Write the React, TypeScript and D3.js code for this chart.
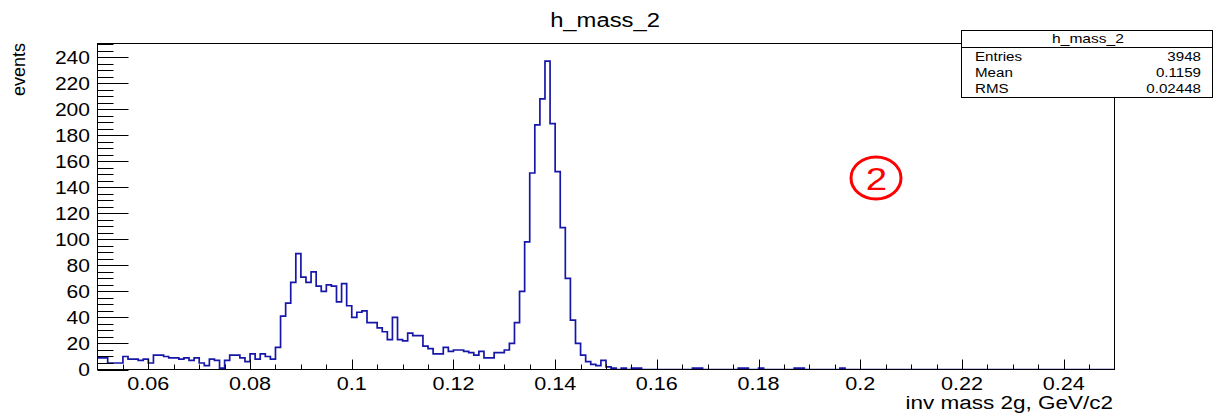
import React from "react";
import * as d3 from "d3";

// Histogram h_mass_2: 200 bins of width 0.001 from 0.05 to 0.25
const binLow = 0.05;
const binWidth = 0.001;
const counts: number[] = [
  9, 9, 5, 5, 5, 10, 8, 8, 7, 8, 5, 11, 11, 10, 9, 9, 8, 9, 7, 9,
  5, 3, 8, 7, 1, 7, 11, 11, 9, 6, 12, 8, 12, 10, 8, 17, 41, 51, 67, 89,
  71, 67, 75, 64, 60, 65, 64, 52, 66, 49, 40, 44, 45, 36, 36, 32, 29, 23, 40, 23,
  22, 28, 26, 26, 18, 16, 12, 12, 17, 14, 15, 15, 14, 13, 11, 14, 9, 9, 13, 13,
  15, 20, 36, 60, 98, 151, 188, 208, 237, 189, 152, 109, 70, 38, 20, 11, 6, 4, 3, 7,
  2, 1, 0, 1, 0, 1, 1, 0, 0, 0, 0, 0, 0, 0, 0, 0, 0, 1, 1, 0,
  0, 0, 0, 0, 0, 0, 1, 1, 0, 0, 1, 0, 0, 0, 0, 0, 0, 1, 1, 0,
  0, 0, 0, 0, 0, 0, 1, 0, 0, 0, 0, 0, 0, 0, 0, 0, 0, 0, 0, 0,
  0, 0, 0, 0, 0, 0, 0, 0, 0, 0, 0, 0, 0, 0, 0, 0, 0, 0, 0, 0,
  0, 0, 0, 0, 0, 0, 0, 0, 0, 0, 0, 0, 0, 0, 0, 0, 0, 0, 0, 0,
];

const xMajorTicks = [0.06, 0.08, 0.1, 0.12, 0.14, 0.16, 0.18, 0.2, 0.22, 0.24];
const xTickLabels = ["0.06", "0.08", "0.1", "0.12", "0.14", "0.16", "0.18", "0.2", "0.22", "0.24"];
const yMajorTicks = [0, 20, 40, 60, 80, 100, 120, 140, 160, 180, 200, 220, 240];
const statsLabels = ["Entries", "Mean", "RMS"];
const statsValues = ["3948", "0.1159", "0.02448"];

const W = 1214;
const H = 416;
const left = 97.5;
const right = 1114.5;
const top = 43.5;
const bottom = 369.5;
const SX = 1.2;
const FONT = "'Liberation Sans', Arial, Helvetica, sans-serif";

function T(props: {
  x: number; y: number; anchor?: string; size: number; sx?: number; fill?: string; rotate?: boolean; children: React.ReactNode;
}) {
  const { x, y, anchor = "start", size, sx = SX, fill = "#000", rotate = false, children } = props;
  const tr = `translate(${x},${y}) scale(${sx},1)` + (rotate ? " rotate(-90)" : "");
  return (
    <text transform={tr} textAnchor={anchor} fontSize={size} fontFamily={FONT} fill={fill}>
      {children}
    </text>
  );
}

export default function App() {
  const x = d3.scaleLinear().domain([0.05, 0.25]).range([left, right]);
  const y = d3.scaleLinear().domain([0, 250.5]).range([bottom, top]);

  const pts: [number, number][] = counts.map((c, i) => [binLow + i * binWidth, c]);
  pts.push([binLow + counts.length * binWidth, counts[counts.length - 1]]);
  const line = d3
    .line<[number, number]>()
    .x((d) => x(d[0]))
    .y((d) => y(d[1]))
    .curve(d3.curveStepAfter);

  const xMinor = d3.range(0, 41).map((k) => 0.05 + k * 0.005).filter((v) => v > 0.0501 && v < 0.2499);
  const yMinor = d3.range(0, 51).map((k) => k * 5).filter((v) => v % 20 !== 0 && v < 250.5);

  const majorLenY = 31;
  const minorLenY = 16;
  const majorLenX = 10;
  const minorLenX = 5;

  const statsTop = 30.5;
  const statsBottom = 97.5;

  return (
    <div style={{ position: "absolute", left: 0, top: 0 }}>
      <svg width={W} height={H} style={{ display: "block", background: "#fff" }}>
        <rect x={0} y={0} width={W} height={H} fill="#fff" />
        {/* title */}
        <T x={605} y={27} anchor="middle" size={20} sx={1.19}>h_mass_2</T>

        {/* histogram */}
        <defs>
          <clipPath id="frameClip">
            <rect x={left} y={top} width={right - left} height={bottom - top} />
          </clipPath>
        </defs>
        <path d={line(pts) || ""} fill="none" stroke="#1616a8" strokeWidth={1.7} clipPath="url(#frameClip)" />

        {/* frame */}
        <rect x={left} y={top} width={right - left} height={bottom - top} fill="none" stroke="#000" strokeWidth={1} />

        {/* y axis ticks */}
        {yMajorTicks.map((v) => (
          <line key={"ym" + v} x1={left} x2={left + majorLenY} y1={Math.round(y(v)) + 0.5} y2={Math.round(y(v)) + 0.5} stroke="#000" />
        ))}
        {yMinor.map((v) => (
          <line key={"yn" + v} x1={left} x2={left + minorLenY} y1={Math.round(y(v)) + 0.5} y2={Math.round(y(v)) + 0.5} stroke="#000" />
        ))}
        {yMajorTicks.map((v) => (
          <T key={"yl" + v} x={90} y={y(v) + 6.5} anchor="end" size={18} sx={1.17}>{String(v)}</T>
        ))}
        <T x={25} y={43} anchor="end" size={18} sx={1.0} rotate>events</T>

        {/* x axis ticks */}
        {xMajorTicks.map((v) => (
          <line key={"xm" + v} x1={Math.round(x(v)) + 0.5} x2={Math.round(x(v)) + 0.5} y1={bottom} y2={bottom - majorLenX} stroke="#000" />
        ))}
        {xMinor.map((v) => (
          <line key={"xn" + v} x1={Math.round(x(v)) + 0.5} x2={Math.round(x(v)) + 0.5} y1={bottom} y2={bottom - minorLenX} stroke="#000" />
        ))}
        {xMajorTicks.map((v, i) => (
          <T key={"xl" + v} x={x(v)} y={390} anchor="middle" size={18} sx={1.2}>{xTickLabels[i]}</T>
        ))}
        <T x={1113} y={409} anchor="end" size={18} sx={1.25}>inv mass 2g, GeV/c2</T>

        {/* stats box */}
        <rect x={961.5} y={statsTop} width={251} height={statsBottom - statsTop} fill="#fff" stroke="#000" strokeWidth={1} />
        <line x1={961.5} x2={1212.5} y1={47.5} y2={47.5} stroke="#000" />
        <T x={1088} y={43} anchor="middle" size={13} sx={1.2}>h_mass_2</T>
        {statsLabels.map((s, i) => (
          <T key={s} x={975} y={60.5 + i * 16.3} size={13.5} sx={1.12}>{s}</T>
        ))}
        {statsValues.map((s, i) => (
          <T key={s} x={1201} y={60.5 + i * 16.3} anchor="end" size={13.5} sx={1.12}>{s}</T>
        ))}

        {/* annotation */}
        <ellipse cx={876} cy={178} rx={25} ry={21} fill="none" stroke="#ff0000" strokeWidth={3} />
        <T x={876.5} y={189.5} anchor="middle" size={32} sx={1.2} fill="#ff0000">2</T>
      </svg>
    </div>
  );
}
